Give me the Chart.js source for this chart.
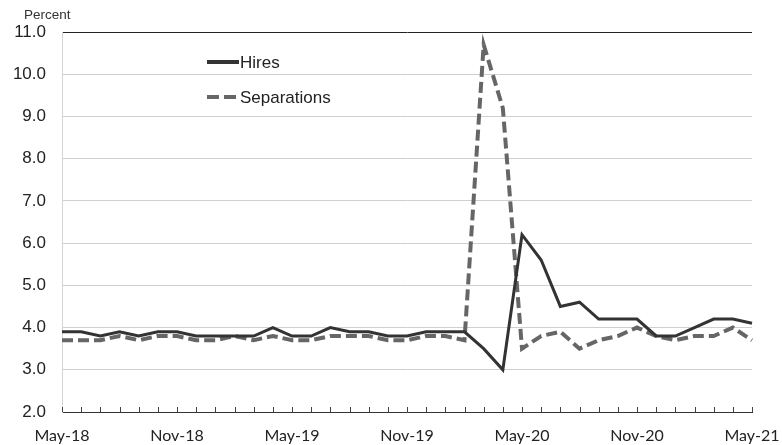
<!DOCTYPE html>
<html>
<head>
<meta charset="utf-8">
<script src="https://cdn.jsdelivr.net/npm/chart.js@4"></script>
<style>
  html, body { margin: 0; padding: 0; background: #fff; }
  #wrap { position: relative; width: 782px; height: 445px; overflow: hidden; }
  #unit { position: absolute; left: 24px; top: 7px; font: 13.5px "Liberation Sans", Arial, sans-serif; color: #333; }
</style>
</head>
<body>
<div id="wrap">
  <div id="unit">Percent</div>
  <canvas id="jolts" width="782" height="445"></canvas>
</div>
<script>
// monthly, May-18 .. May-21
const months = [
  'May-18','Jun-18','Jul-18','Aug-18','Sep-18','Oct-18','Nov-18','Dec-18','Jan-19','Feb-19','Mar-19','Apr-19',
  'May-19','Jun-19','Jul-19','Aug-19','Sep-19','Oct-19','Nov-19','Dec-19','Jan-20','Feb-20','Mar-20','Apr-20',
  'May-20','Jun-20','Jul-20','Aug-20','Sep-20','Oct-20','Nov-20','Dec-20','Jan-21','Feb-21','Mar-21','Apr-21',
  'May-21'
];

const hires = [
  3.9, 3.9, 3.8, 3.9, 3.8, 3.9, 3.9, 3.8, 3.8, 3.8, 3.8, 4.0,
  3.8, 3.8, 4.0, 3.9, 3.9, 3.8, 3.8, 3.9, 3.9, 3.9, 3.5, 3.0,
  6.2, 5.6, 4.5, 4.6, 4.2, 4.2, 4.2, 3.8, 3.8, 4.0, 4.2, 4.2,
  4.1
];

const separations = [
  3.7, 3.7, 3.7, 3.8, 3.7, 3.8, 3.8, 3.7, 3.7, 3.8, 3.7, 3.8,
  3.7, 3.7, 3.8, 3.8, 3.8, 3.7, 3.7, 3.8, 3.8, 3.7, 10.7, 9.2,
  3.5, 3.8, 3.9, 3.5, 3.7, 3.8, 4.0, 3.8, 3.7, 3.8, 3.8, 4.0,
  3.7
];

// small month ticks pointing up from the axis, plus the legend inside the plot
const extras = {
  id: 'extras',
  afterDraw(chart) {
    const ctx = chart.ctx;
    const x = chart.scales.x;
    const bottom = chart.chartArea.bottom;
    ctx.save();
    ctx.strokeStyle = '#444';
    ctx.lineWidth = 1;
    months.forEach((m, i) => {
      const px = Math.round(x.getPixelForValue(i)) + 0.5;
      ctx.beginPath();
      ctx.moveTo(px, bottom);
      ctx.lineTo(px, bottom - 5);
      ctx.stroke();
    });

    const items = [
      { text: 'Hires', y: 62, ds: chart.data.datasets[0], dash: [] },
      { text: 'Separations', y: 97, ds: chart.data.datasets[1], dash: [12, 5] }
    ];
    ctx.font = '17px "Liberation Sans", Arial, sans-serif';
    ctx.textBaseline = 'middle';
    items.forEach(it => {
      ctx.strokeStyle = it.ds.borderColor;
      ctx.lineWidth = 4;
      ctx.setLineDash(it.dash);
      ctx.beginPath();
      ctx.moveTo(207, it.y);
      ctx.lineTo(239, it.y);
      ctx.stroke();
      ctx.setLineDash([]);
      ctx.fillStyle = '#222';
      ctx.fillText(it.text, 240, it.y + 1);
    });
    ctx.restore();
  }
};

new Chart(document.getElementById('jolts'), {
  type: 'line',
  data: {
    labels: months,
    datasets: [
      {
        label: 'Hires',
        data: hires,
        borderColor: '#333333',
        borderWidth: 3,
        pointRadius: 0,
        tension: 0
      },
      {
        label: 'Separations',
        data: separations,
        borderColor: '#666666',
        borderWidth: 4,
        borderDash: [11, 5],
        pointRadius: 0,
        tension: 0
      }
    ]
  },
  options: {
    responsive: false,
    animation: false,
    layout: { padding: { top: 32, right: 30, left: 0, bottom: 0 } },
    plugins: { legend: { display: false }, tooltip: { enabled: false } },
    scales: {
      x: {
        grid: { display: false, drawTicks: false },
        border: { color: '#333', width: 1 },
        afterFit(scale) {
          scale.height = 33;
          scale.paddingLeft = 0;
          scale.paddingRight = 0;
        },
        ticks: {
          autoSkip: false,
          maxRotation: 0,
          padding: 14,
          color: '#222',
          font: { family: 'Lato, "Open Sans", sans-serif', size: 16 },
          callback: (v, i) => (i % 6 === 0 ? months[i] : '')
        }
      },
      y: {
        min: 2,
        max: 11,
        afterFit(scale) { scale.width = 62; },
        grid: {
          drawTicks: false,
          color: c => (c.tick && c.tick.value === 11 ? '#222' : '#cfcfcf'),
          lineWidth: 1
        },
        border: { color: '#d5d5d5', width: 1 },
        ticks: {
          stepSize: 1,
          padding: 16,
          color: '#222',
          font: { family: '"Liberation Sans", Arial, sans-serif', size: 17 },
          callback: v => v.toFixed(1)
        }
      }
    }
  },
  plugins: [extras]
});
</script>
</body>
</html>
